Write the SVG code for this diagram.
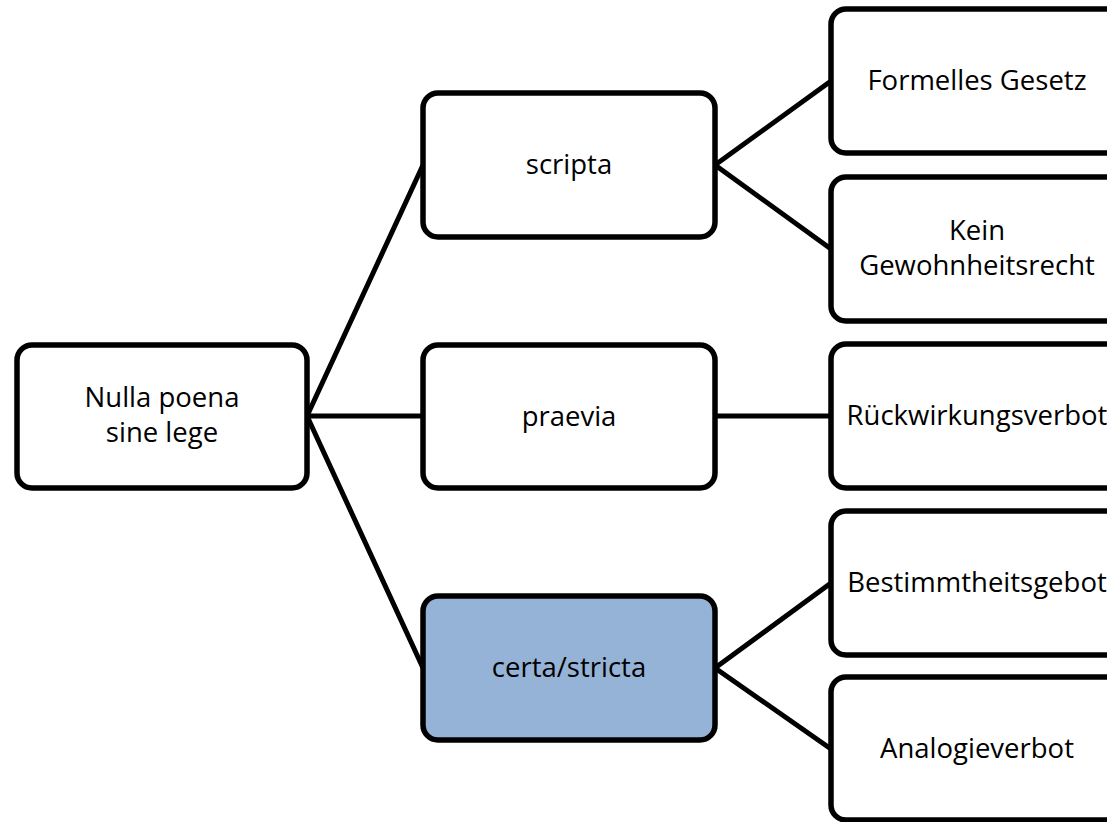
<svg xmlns="http://www.w3.org/2000/svg" width="1107" height="822" viewBox="0 0 1107 822">
<style>
.box{fill:#fff;stroke:#000;stroke-width:5.5}
.hl{fill:#95B3D7}
.lbl{font-family:"Open Sans","Liberation Sans",sans-serif;font-size:27.5px;fill:#000;text-anchor:middle}
.con line{stroke:#000;stroke-width:5;stroke-linecap:round}
</style>
<rect width="1107" height="822" fill="#fff"/>
<g id="connectors" class="con">
<line x1="307" y1="416" x2="423" y2="165"/>
<line x1="307" y1="416" x2="423" y2="416"/>
<line x1="307" y1="416" x2="423" y2="668"/>
<line x1="715" y1="165" x2="831" y2="81"/>
<line x1="715" y1="165" x2="831" y2="249"/>
<line x1="715" y1="416" x2="831" y2="416"/>
<line x1="715" y1="668" x2="831" y2="583"/>
<line x1="715" y1="668" x2="831" y2="749"/>
</g>
<g id="root">
<rect class="box" x="17" y="345" width="290" height="143" rx="15"/>
<text class="lbl" x="162" y="407">Nulla poena</text>
<text class="lbl" x="162" y="442">sine lege</text>
</g>
<g id="scripta">
<rect class="box" x="423" y="93" width="292" height="144" rx="15"/>
<text class="lbl" x="569" y="174">scripta</text>
</g>
<g id="praevia">
<rect class="box" x="423" y="345" width="292" height="143" rx="15"/>
<text class="lbl" x="569" y="426">praevia</text>
</g>
<g id="certa">
<rect class="box hl" x="423" y="596" width="292" height="144" rx="15"/>
<text class="lbl" x="569" y="677">certa/stricta</text>
</g>
<g id="formelles">
<rect class="box" x="831" y="9" width="292" height="144" rx="15"/>
<text class="lbl" x="977" y="90">Formelles Gesetz</text>
</g>
<g id="kein">
<rect class="box" x="831" y="177" width="292" height="144" rx="15"/>
<text class="lbl" x="977" y="240">Kein</text>
<text class="lbl" x="977" y="275">Gewohnheitsrecht</text>
</g>
<g id="rueckwirkung">
<rect class="box" x="831" y="344" width="292" height="144" rx="15"/>
<text class="lbl" x="977" y="425">Rückwirkungsverbot</text>
</g>
<g id="bestimmtheit">
<rect class="box" x="831" y="511" width="292" height="144" rx="15"/>
<text class="lbl" x="977" y="592">Bestimmtheitsgebot</text>
</g>
<g id="analogie">
<rect class="box" x="831" y="677" width="292" height="143" rx="15"/>
<text class="lbl" x="977" y="758">Analogieverbot</text>
</g>
</svg>
